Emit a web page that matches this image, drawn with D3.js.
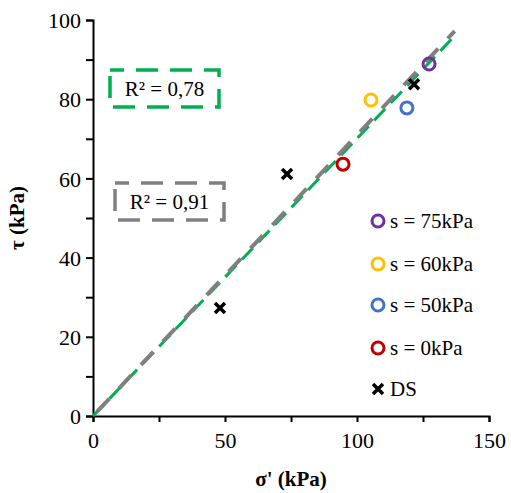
<!DOCTYPE html>
<html><head><meta charset="utf-8">
<script src="https://cdn.jsdelivr.net/npm/d3@7"></script>
</head><body>
<script>
const xTicks = [0, 50, 100, 150];
const yTicks = [0, 20, 40, 60, 80, 100];
const seriesNames = ["s = 75kPa", "s = 60kPa", "s = 50kPa", "s = 0kPa", "DS"];
const seriesColors = ["#7030a0", "#ffc000", "#4472c4", "#c00000", "#000000"];
const s75 = [[127.3, 88.9]];
const s60 = [[105.3, 79.8]];
const s50 = [[118.9, 77.8]];
const s0 = [[94.7, 63.6]];
const ds = [[48.1, 27.3], [73.5, 61.1], [121.6, 83.8]];
const fitGreen = [[0, 0], [137, 96.0]];
const fitGray = [[0, 0], [137, 97.2]];
const r2Labels = ["R² = 0,78", "R² = 0,91"];

const FONT = '"Liberation Serif", "Tinos", "Times New Roman", serif';
const W = 511, H = 493;
const m = {l: 93, r: 22, t: 20, b: 77};
d3.select("body").style("margin", "0px");
const svg = d3.select("body").append("svg").attr("width", W).attr("height", H).style("display", "block");
const x = d3.scaleLinear().domain([0, 150]).range([m.l, W - m.r]);
const y = d3.scaleLinear().domain([0, 100]).range([H - m.b, m.t]);

function T(sel, size, weight) {
  sel.each(function () {
    this.style.setProperty("font-family", FONT, "important");
    this.style.setProperty("font-size", size + "px", "important");
    this.style.setProperty("font-weight", weight || "normal", "important");
  });
  return sel;
}
T(svg, 21);

// axes
const xAxis = d3.axisBottom(x).tickValues(d3.range(0, 151, 25)).tickSize(6).tickFormat(d => xTicks.includes(d) ? d : "");
const yAxis = d3.axisLeft(y).tickValues(d3.range(0, 101, 10)).tickSize(7).tickFormat(d => yTicks.includes(d) ? d : "");
const gx = svg.append("g").attr("transform", `translate(0,${y(0)})`).call(xAxis);
const gy = svg.append("g").attr("transform", `translate(${x(0)},0)`).call(yAxis);
[gx, gy].forEach(g => {
  g.attr("font-family", null).attr("font-size", null);
  g.select(".domain").attr("stroke", "#000").attr("stroke-width", 2);
  g.selectAll(".tick line").attr("stroke", "#000").attr("stroke-width", 2);
  T(g.selectAll(".tick text"), 22).attr("fill", "#000");
});
gx.selectAll(".tick text").attr("dy", "1.05em");
gy.selectAll(".tick text").attr("x", -12).attr("dy", "0.35em");

T(svg.append("text"), 21, "bold").attr("x", x(75)).attr("y", 486).attr("text-anchor", "middle").text("σ' (kPa)");
T(svg.append("text"), 21, "bold").attr("transform", `translate(24,${y(50)}) rotate(-90)`).attr("text-anchor", "middle").text("τ (kPa)");

// fit lines
const line = d3.line().x(d => x(d[0])).y(d => y(d[1]));
svg.append("path").datum(fitGreen).attr("d", line).attr("fill", "none")
  .attr("stroke", "#00b050").attr("stroke-width", 3).attr("stroke-dasharray", "16,8");
svg.append("path").datum(fitGray).attr("d", line).attr("fill", "none")
  .attr("stroke", "#808080").attr("stroke-width", 4).attr("stroke-dasharray", "18,14").attr("stroke-dashoffset", -6);

// R2 boxes
const boxes = [
  {txt: r2Labels[0], c: "#00b050", bx: 110, by: 70},
  {txt: r2Labels[1], c: "#808080", bx: 115, by: 183}
];
boxes.forEach(b => {
  svg.append("rect").attr("x", b.bx).attr("y", b.by).attr("width", 109).attr("height", 37)
    .attr("fill", "none").attr("stroke", b.c).attr("stroke-width", 3.5).attr("stroke-dasharray", "22,12").attr("stroke-dashoffset", 8);
  T(svg.append("text"), 21).attr("x", b.bx + 54.5).attr("y", b.by + 26).attr("text-anchor", "middle")
    .attr("fill", "#000").text(b.txt);
});

// points
const circleSeries = [s75, s60, s50, s0];
circleSeries.forEach((s, i) => {
  svg.selectAll(null).data(s).enter().append("circle")
    .attr("cx", d => x(d[0])).attr("cy", d => y(d[1])).attr("r", 6)
    .attr("fill", "none").attr("stroke", seriesColors[i]).attr("stroke-width", 3);
});
const cross = (g, cx, cy, s) => {
  g.append("path").attr("d", `M${cx - s},${cy - s}L${cx + s},${cy + s}M${cx - s},${cy + s}L${cx + s},${cy - s}`)
    .attr("stroke", "#000").attr("stroke-width", 3.5).attr("fill", "none");
};
ds.forEach(d => cross(svg, x(d[0]), y(d[1]), 5));

// legend
const legY = [221, 264, 305, 348, 389];
seriesNames.forEach((n, i) => {
  const ly = legY[i];
  if (i < 4) {
    svg.append("circle").attr("cx", 378).attr("cy", ly).attr("r", 6)
      .attr("fill", "none").attr("stroke", seriesColors[i]).attr("stroke-width", 3);
  } else {
    cross(svg, 378, ly, 5);
  }
  T(svg.append("text"), 21).attr("x", 390).attr("y", ly + 7).attr("fill", "#000").text(n);
});
</script>
</body></html>
